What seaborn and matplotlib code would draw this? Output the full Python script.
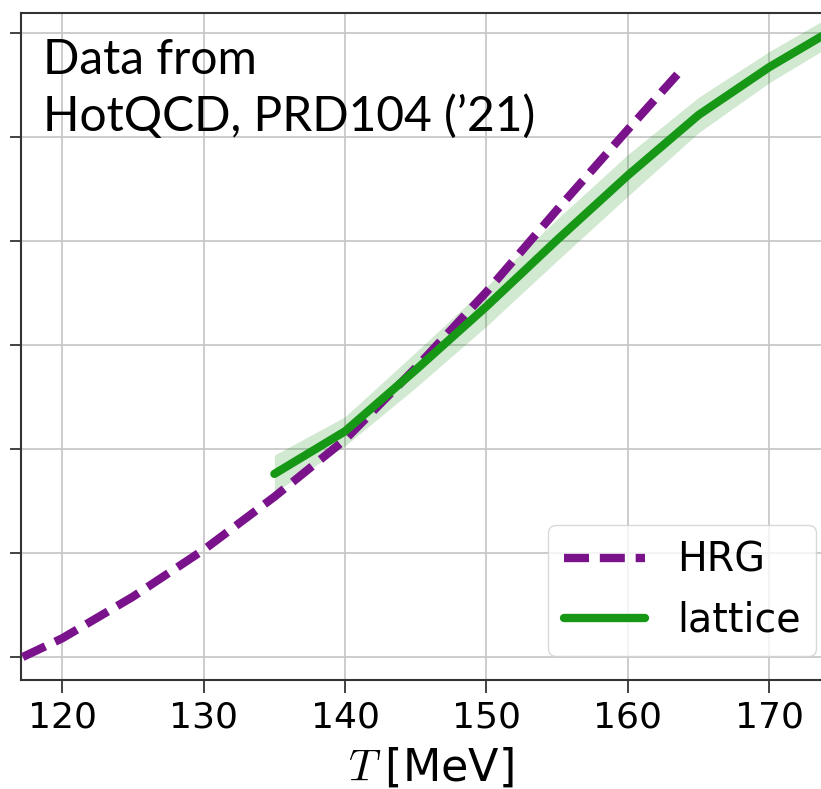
import matplotlib
matplotlib.use("Agg")
import matplotlib.pyplot as plt
import seaborn as sns
import numpy as np

# --- data ---
T_hrg = [117.2, 120, 125, 130, 135, 140, 145, 150, 155, 160, 163.5]
chi_hrg = [0.0, 0.18, 0.58, 1.03, 1.54, 2.09, 2.78, 3.51, 4.30, 5.07, 5.60]

T_lat = [135, 140, 145, 150, 155, 160, 165, 170, 175]
chi_lat = [1.76, 2.17, 2.76, 3.37, 4.01, 4.63, 5.21, 5.67, 6.07]
err_lat = [0.18, 0.14, 0.17, 0.19, 0.20, 0.20, 0.17, 0.15, 0.14]

x_ticks = [120, 130, 140, 150, 160, 170]
y_ticks = [0, 1, 2, 3, 4, 5, 6]

sns.set_style("whitegrid")
plt.rcParams["font.family"] = ["DejaVu Sans"]
plt.rcParams["mathtext.fontset"] = "cm"
plt.rcParams["text.color"] = "black"
plt.rcParams["axes.labelcolor"] = "black"
plt.rcParams["xtick.labelcolor"] = "black"

W, H = 821, 789
fig = plt.figure(figsize=(W / 100, H / 100), dpi=100)
l, r, t, b = 21, 840, 13, 680
ax = fig.add_axes([l / W, 1 - b / H, (r - l) / W, (b - t) / H])

purple = "#7a128b"
green = "#169816"

lat = np.array(chi_lat)
err = np.array(err_lat)
ax.fill_between(T_lat, lat - err, lat + err, color="green", alpha=0.18, lw=0, zorder=2)
sns.lineplot(x=T_hrg, y=chi_hrg, ax=ax, color=purple, lw=6,
             linestyle=(0, (3.0, 1.3)), label="HRG", zorder=3)
sns.lineplot(x=T_lat, y=chi_lat, ax=ax, color=green, lw=6, label="lattice", zorder=4)

ax.set_xlim(117.08, 175.0)
ax.set_ylim(-0.221, 6.19)
ax.set_xticks(x_ticks)
ax.set_yticks(y_ticks)
ax.set_yticklabels([])
ax.tick_params(axis="x", labelsize=26, length=9, width=1.2, color="#222222", pad=6,
               labelcolor="black", bottom=True)
ax.tick_params(axis="y", length=8, width=1.2, color="#222222", left=True)

ax.grid(True, color="#c8c8c8", lw=1.3, ls="-")
for s in ["left", "bottom", "top", "right"]:
    ax.spines[s].set_color("#333333")
    ax.spines[s].set_linewidth(1.5)

ax.set_xlabel(r"$T\;$[MeV]", fontsize=32, labelpad=8, color="black")
ax.set_ylabel("")

ax.text(0.027, 0.963, "Data from\nHotQCD, PRD104 (’21)", transform=ax.transAxes,
        fontsize=34.5, family=["Lato", "DejaVu Sans"], va="top", ha="left",
        linespacing=1.33, zorder=5, color="black")

leg = ax.legend(loc="lower right", fontsize=28.5, handlelength=2.05,
                framealpha=0.8, edgecolor="#d0d0d0", fancybox=True,
                borderaxespad=0.6, handletextpad=0.8, labelspacing=0.5)
for txt in leg.get_texts():
    txt.set_color("black")
for line in leg.get_lines():
    line.set_linewidth(6)

fig.savefig("out.png", dpi=100)
